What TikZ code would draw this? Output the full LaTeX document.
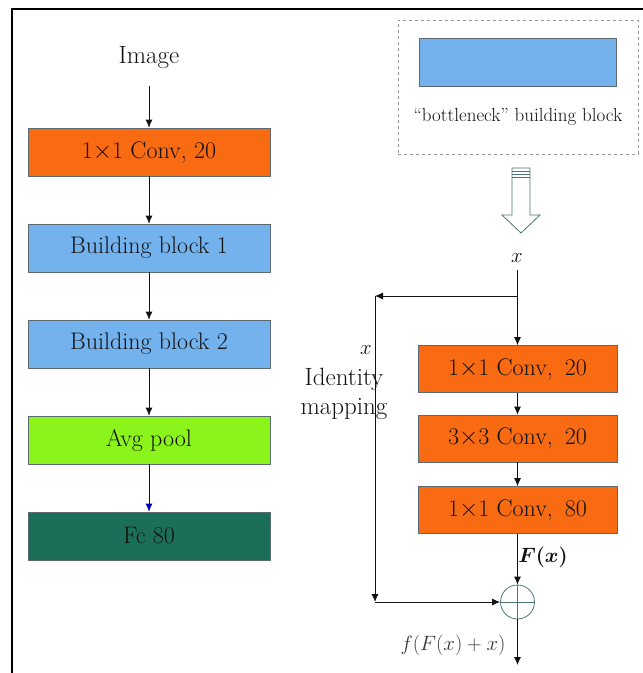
\documentclass[tikz,border=0pt]{standalone}
\usepackage{amsmath}
\usepackage{bm}
\usetikzlibrary{arrows.meta}
\definecolor{orangebox}{HTML}{F96B12}
\definecolor{bluebox}{HTML}{74B2EE}
\definecolor{greenbox}{HTML}{8BF51B}
\definecolor{darkgreenbox}{HTML}{1B6F58}
\definecolor{boxedge}{HTML}{5A6A70}
\definecolor{txt}{HTML}{121212}
\definecolor{hollow}{HTML}{4F7474}
\tikzset{
  blk/.style={draw=boxedge, line width=0.6pt, minimum width=242pt, minimum height=48pt, inner sep=0pt, text=txt, font=\fontsize{24}{28}\selectfont},
  rblk/.style={blk, minimum width=199pt, minimum height=47pt},
  conn/.style={draw=txt, line width=0.8pt, -{Latex[length=8pt,width=7pt]}},
  plain/.style={draw=txt, line width=0.8pt},
  lbl/.style={text=txt, inner sep=0pt, font=\fontsize{25}{30}\selectfont}
}
\begin{document}
\begin{tikzpicture}[x=1pt,y=-1pt]
\useasboundingbox (0,0) rectangle (643,673);
% frame
\draw[line width=2pt, black] (11.5,673) -- (11.5,8.5) -- (643,8.5);
% left column
\node[lbl] (img) at (149,58) {Image};
\node[blk, fill=orangebox] (c1) at (149,152) {1$\times$1 Conv, 20};
\node[blk, fill=bluebox] (b1) at (149,248) {Building block 1};
\node[blk, fill=bluebox] (b2) at (149,344) {Building block 2};
\node[blk, fill=greenbox] (ap) at (149,440) {Avg pool};
\node[blk, fill=darkgreenbox] (fc) at (149,536) {Fc 80};
\coordinate (imgb) at (149,86);
\draw[conn] (imgb) -- (c1.north);
\draw[conn] (c1) -- (b1);
\draw[conn] (b1) -- (b2);
\draw[conn] (b2) -- (ap);
\draw[conn, draw=blue!70!black] (ap) -- (fc);
% legend box
\node[draw=gray!80, dashed, line width=0.9pt, minimum width=240pt, minimum height=134pt, inner sep=0pt] (leg) at (518,87) {};
\node[draw=boxedge, line width=0.6pt, fill=bluebox, minimum width=197pt, minimum height=48pt, inner sep=0pt] (legblk) at (517.5,62) {};
\node[text=txt, inner sep=0pt, font=\fontsize{19}{23}\selectfont] (legtxt) at (518,117) {``bottleneck'' building block};
% hollow arrow
\draw[hollow, line width=0.8pt, fill=white] (512,168) -- (530,168) -- (530,215) -- (540,215) -- (521,233) -- (502,215) -- (512,215) -- cycle;
\foreach \yy in {171,174,177} \draw[hollow, line width=0.8pt] (512,\yy) -- (530,\yy);
% right column
\node[text=txt, inner sep=0pt, font=\fontsize{20}{24}\selectfont] (xin) at (517,258) {$x$};
\node[rblk, fill=orangebox] (r1) at (517.5,369) {1$\times$1 Conv,\enspace 20};
\node[rblk, fill=orangebox] (r2) at (517.5,438.5) {3$\times$3 Conv,\enspace 20};
\node[rblk, fill=orangebox] (r3) at (517.5,510) {1$\times$1 Conv,\enspace 80};
\coordinate (xtop) at (517.5,270);
\coordinate (split) at (517.5,296);
\coordinate (tl) at (375,296);
\coordinate (bl) at (375,602);
\node[draw=hollow, line width=0.8pt, circle, minimum size=34pt, inner sep=0pt] (sum) at (517.5,602) {};
\draw[hollow, line width=0.6pt] (sum.north) -- (sum.south) (sum.west) -- (sum.east);
\coordinate (out) at (517.5,665);
\draw[plain] (xtop) -- (split);
\draw[conn] (split) -- (r1.north);
\draw[conn] (split) -- (tl);
\draw[conn] (tl) -- (bl);
\draw[conn] (bl) -- (sum.west);
\draw[conn] (r1) -- (r2);
\draw[conn] (r2) -- (r3);
\draw[conn] (r3) -- (sum.north);
\draw[conn] (sum.south) -- (out);
\node[lbl, font=\fontsize{21}{25}\selectfont] (xid) at (366,350) {$x$};
\node[lbl, align=center, font=\fontsize{25}{29}\selectfont] (idm) at (344,394) {Identity\\mapping};
\node[lbl, font=\fontsize{20}{24}\selectfont] (fx) at (543,557) {$\bm{F(x)}$};
\node[lbl, font=\fontsize{20}{24}\selectfont, text=txt!85] (fo) at (453,645) {$f(F(x)+x)$};
\end{tikzpicture}
\end{document}
